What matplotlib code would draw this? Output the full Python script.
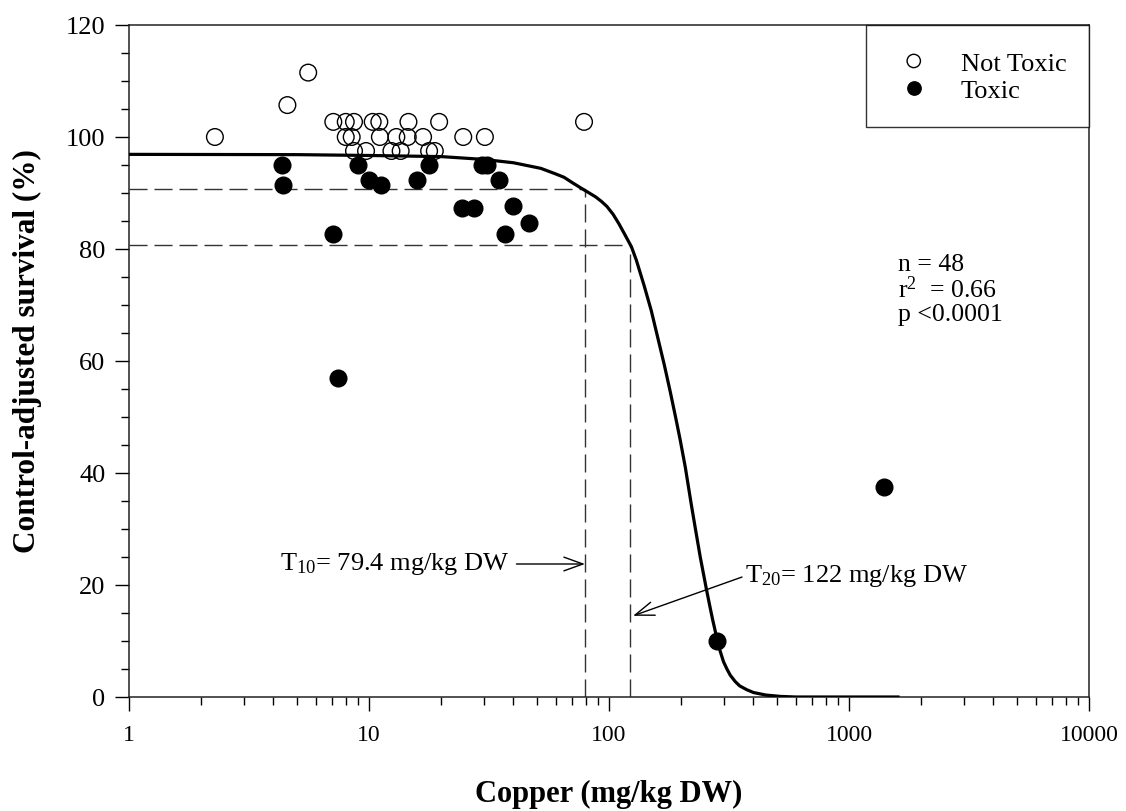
import matplotlib
matplotlib.use('Agg')
import matplotlib.pyplot as plt
from matplotlib.ticker import NullFormatter, MultipleLocator, LogLocator

plt.rcParams['font.family'] = ['Liberation Serif', 'DejaVu Serif']
plt.rcParams['mathtext.fontset'] = 'custom'
plt.rcParams['mathtext.rm'] = 'Liberation Serif'
plt.rcParams['mathtext.it'] = 'Liberation Serif:italic'
plt.rcParams['mathtext.bf'] = 'Liberation Serif:bold'

# ---------------- data ----------------
not_toxic_cu = [2.28, 4.57, 5.58, 7.10, 8.0, 8.66, 10.36, 11.04, 14.6, 19.6,
                8.0, 8.47, 11.1, 13.0, 14.5, 16.8, 24.7, 30.4,
                8.66, 9.72, 12.4, 13.55, 17.8, 18.8, 78.7]
not_toxic_surv = [100, 105.7, 111.5, 102.7, 102.7, 102.7, 102.7, 102.7, 102.7, 102.7,
                  100, 100, 100, 100, 100, 100, 100, 100,
                  97.5, 97.5, 97.5, 97.5, 97.5, 97.5, 102.7]

toxic_cu = [4.32, 4.39, 8.97, 10.0, 11.2, 15.9, 17.8, 29.5, 31.0, 34.9,
            24.3, 27.3, 39.9, 46.5, 36.9, 7.1, 7.4, 1400, 283]
toxic_surv = [95.0, 91.4, 95.0, 92.4, 91.4, 92.4, 95.0, 95.0, 95.0, 92.4,
              87.3, 87.3, 87.6, 84.7, 82.6, 82.6, 57.0, 37.5, 10.0]

# fitted curve
curve_cu = [1, 5, 10, 20, 30, 40, 52, 60, 65, 70, 77, 82, 88, 93, 98, 104, 110, 116,
            124, 130, 140, 150, 160, 170, 180, 190, 198, 208, 220, 230, 240, 255, 262,
            270, 276, 283, 290, 300, 310, 320, 335, 350, 375, 400, 450, 520, 600, 800, 1600]
curve_surv = [96.9, 96.85, 96.7, 96.5, 96.0, 95.4, 94.4, 93.4, 92.8, 91.9, 90.8, 90.1,
              89.3, 88.5, 87.6, 86.2, 84.5, 82.7, 80.4, 78.0, 73.5, 69.0, 64.0, 59.3,
              54.5, 49.7, 45.9, 41.0, 34.5, 29.6, 25.0, 19.1, 16.6, 13.9, 12.1, 10.0,
              8.3, 6.3, 5.0, 3.9, 2.8, 2.0, 1.3, 0.8, 0.35, 0.1, 0.0, 0.0, 0.0]

T10 = 79.4
T20 = 122
T10_level = 90.7
T20_level = 80.7

x_ticks = [1, 10, 100, 1000, 10000]
x_tick_labels = ['1', '10', '100', '1000', '10000']
y_ticks = [0, 20, 40, 60, 80, 100, 120]

# ---------------- figure ----------------
fig = plt.figure(figsize=(11.26, 8.11), dpi=100)
ax = fig.add_axes([129/1126, 1 - 697/811, 960/1126, 672/811])

ax.set_xscale('log')
ax.set_xlim(1, 10000)
ax.set_ylim(0, 120)

dash = (0, (13, 5))
dcol = '#333333'
ax.plot([1, T10], [T10_level, T10_level], ls=dash, color=dcol, lw=1.0, zorder=2)
ax.plot([1, T20], [T20_level, T20_level], ls=dash, color=dcol, lw=1.0, zorder=2)
ax.plot([T10, T10], [0, T10_level], ls=dash, color=dcol, lw=1.0, zorder=2)
ax.plot([T20, T20], [0, T20_level], ls=dash, color=dcol, lw=1.0, zorder=2)

ax.plot(curve_cu, curve_surv, color='black', lw=2.3, zorder=3,
        solid_joinstyle='round')

ax.scatter(not_toxic_cu, not_toxic_surv, s=144, facecolors='none', edgecolors='black',
           linewidths=1.0, zorder=4, label='Not Toxic')
ax.scatter(toxic_cu, toxic_surv, s=144, color='black', zorder=5, label='Toxic')

ax.set_xticks(x_ticks)
ax.set_xticklabels(x_tick_labels)
ax.xaxis.set_minor_locator(LogLocator(base=10, subs=range(2, 10)))
ax.xaxis.set_minor_formatter(NullFormatter())
ax.set_yticks(y_ticks)
ax.yaxis.set_minor_locator(MultipleLocator(5))

ax.tick_params(axis='both', which='major', direction='out', length=10, width=1.0)
ax.tick_params(axis='both', which='minor', direction='out', length=6, width=1.0)
ax.tick_params(axis='y', which='major', labelsize=19, pad=7)
ax.tick_params(axis='x', which='major', labelsize=17, pad=10)
ax.tick_params(top=False, right=False, which='both')
for sp in ax.spines.values():
    sp.set_linewidth(1.1)
    sp.set_color('#222222')

ax.set_xlabel('Copper (mg/kg DW)', fontsize=22, fontweight='bold')
ax.set_ylabel('Control-adjusted survival (%)', fontsize=22.5, fontweight='bold')
ax.xaxis.label.set_va('center')
ax.yaxis.label.set_va('center')
ax.xaxis.set_label_coords(0.5, (697 - 794) / 672)
ax.yaxis.set_label_coords((27 - 129) / 960, 0.515)

leg = ax.legend(loc='upper left',
                bbox_to_anchor=((866 - 129) / 960, 0.0, (1089 - 866) / 960, 1.0),
                mode='expand', borderaxespad=0,
                frameon=True, fancybox=False, edgecolor='black', fontsize=19,
                markerscale=0.8, borderpad=0.9, labelspacing=0.0,
                handletextpad=0.87, handlelength=1.82, handleheight=1.15)
leg.get_frame().set_linewidth(1.0)

stat_x = (898 - 129) / 960
ax.text(stat_x, (697 - 265) / 672, 'n = 48', transform=ax.transAxes,
        fontsize=18.5, va='center', ha='left')
ax.text(stat_x, (697 - 290) / 672, r'r$^{2}$  = 0.66', transform=ax.transAxes,
        fontsize=18.5, va='center', ha='left')
ax.text(stat_x, (697 - 315) / 672, 'p <0.0001', transform=ax.transAxes,
        fontsize=18.5, va='center', ha='left')

ax.annotate(r'T$_{10}$= 79.4 mg/kg DW', xy=(T10, 23.75), xytext=(38.5, 23.75),
            ha='right', va='center', fontsize=19,
            arrowprops=dict(arrowstyle='->,head_length=0.72,head_width=0.26',
                            lw=1.0, color='black', shrinkA=3, shrinkB=0))
ax.annotate(r'T$_{20}$= 122 mg/kg DW', xy=(126, 14.5), xytext=(368, 21.6),
            ha='left', va='center', fontsize=19,
            arrowprops=dict(arrowstyle='->,head_length=0.72,head_width=0.26',
                            lw=1.0, color='black', shrinkA=0, shrinkB=0,
                            relpos=(0, 0.5)))

fig.savefig('out.png', dpi=100)
